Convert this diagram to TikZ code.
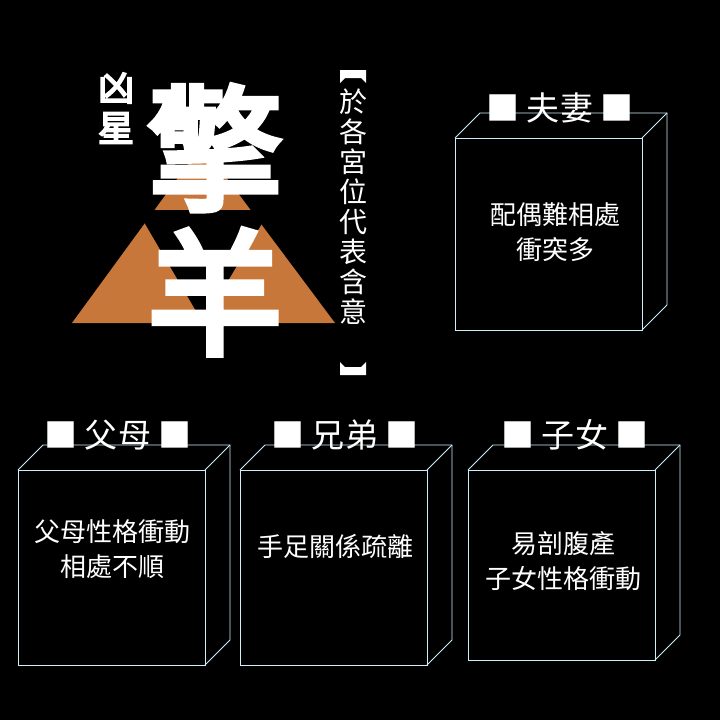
\documentclass[tikz,border=0pt]{standalone}
\usepackage{fontspec}
\newfontfamily\cjk{Noto Sans CJK TC}
\newfontfamily\cjkb{Noto Sans CJK TC}[FakeBold=5]
\definecolor{tri}{HTML}{C8773A}
\begin{document}
\begin{tikzpicture}[x=1pt,y=-1pt,
  edge/.style={draw=white!80!cyan, line width=0.8pt},
  hdr/.style={text=white,font=\cjk\fontsize{33}{35}\selectfont},
  body/.style={text=white,font=\cjk\fontsize{26}{35}\selectfont,align=center}]
\useasboundingbox[fill=black] (0,0) rectangle (720,720);
% triangle
\fill[tri] (72,323) -- (202,145) -- (335,323) -- cycle;
\fill[black] (137,210) -- (270,210) -- (203,323) -- cycle;
\node[text=white,font=\cjkb\fontsize{135}{135}\selectfont] (t1) at (215,148) {擎};
\node[text=white,font=\cjkb\fontsize{135}{135}\selectfont] (t2) at (215,292) {羊};
\node[text=white,font=\cjkb\fontsize{36}{36}\selectfont] (x1) at (116,88) {凶};
\node[text=white,font=\cjkb\fontsize{36}{36}\selectfont] (x2) at (116,128) {星};
% vertical brackets
\fill[white] (340,70) -- (366,70) -- (366,83) -- (361,78) -- (345,78) -- (340,83) -- cycle;
\fill[white] (340,375) -- (366,375) -- (366,362) -- (361,367) -- (345,367) -- (340,362) -- cycle;
\foreach \c [count=\i] in {於,各,宮,位,代,表,含,意}
  \node[text=white,font=\cjk\fontsize{28}{28}\selectfont] (v\i) at (353,72+\i*30) {\c};
% boxes
\foreach \n/\x/\y/\w/\h in {a/455/138/187/192, b/18/470/187/195, c/240/470/187/195, d/468/470/187/190}{
  \coordinate (\n1) at (\x,\y);
  \coordinate (\n2) at (\x+\w,\y);
  \coordinate (\n3) at (\x+\w,\y+\h);
  \coordinate (\n4) at (\x,\y+\h);
  \draw[edge] (\n1) rectangle (\n3);
  \draw[edge] (\n1) -- ++(25,-25) -- ++(\w,0) -- ++(0,\h) -- (\n3);
  \draw[edge] (\n2) -- ++(25,-25);
}
\node[hdr] (ha) at (560,108) {■ 夫妻 ■};
\node[hdr] (hb) at (118,435) {■ 父母 ■};
\node[hdr] (hc) at (345,435) {■ 兄弟 ■};
\node[hdr] (hd) at (575,435) {■ 子女 ■};
\node[body] (ta) at (555,232) {配偶難相處\\衝突多};
\node[body] (tb) at (112,549) {父母性格衝動\\相處不順};
\node[body] (tc) at (335,546) {手足關係疏離};
\node[body] (td) at (563,561) {易剖腹產\\子女性格衝動};
\end{tikzpicture}
\end{document}
